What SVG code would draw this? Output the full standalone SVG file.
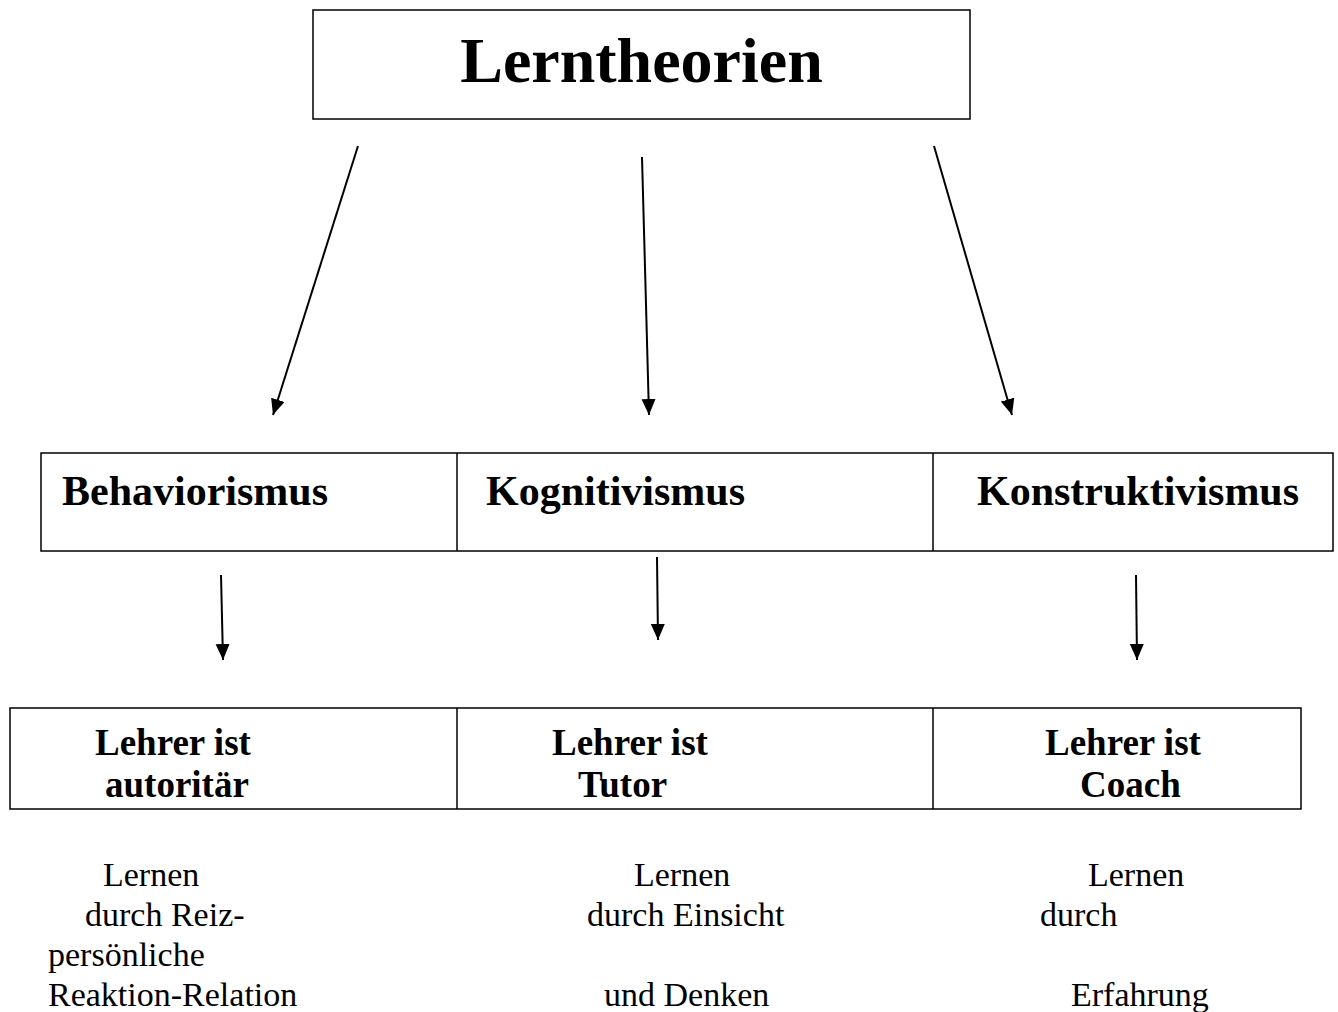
<svg xmlns="http://www.w3.org/2000/svg" width="1338" height="1012" viewBox="0 0 1338 1012">
<style>
.box{fill:#fff;stroke:#000;stroke-width:1.5}
.div{stroke:#000;stroke-width:1.5}
.conn{stroke:#000;stroke-width:2;fill:none;marker-end:url(#ah)}
.t{font-family:"Liberation Serif","Times New Roman",serif;fill:#000}
.b{font-weight:bold}
</style>
<defs>
<marker id="ah" markerUnits="userSpaceOnUse" markerWidth="18" markerHeight="16" refX="16" refY="7" orient="auto">
<path d="M0,0 L16,7 L0,14 Z" fill="#000"/>
</marker>
</defs>
<g id="title">
<rect class="box" x="313" y="10" width="657" height="109"/>
<text class="t b" x="641.5" y="82" font-size="64" text-anchor="middle">Lerntheorien</text>
</g>
<g id="theories">
<rect class="box" x="41" y="453" width="1292" height="98" stroke-width="2"/>
<line class="div" x1="457" y1="453" x2="457" y2="551"/>
<line class="div" x1="933" y1="453" x2="933" y2="551"/>
<text class="t b" x="62" y="505" font-size="42">Behaviorismus</text>
<text class="t b" x="486" y="505" font-size="42">Kognitivismus</text>
<text class="t b" x="977" y="505" font-size="42">Konstruktivismus</text>
</g>
<g id="roles">
<rect class="box" x="10" y="708" width="1291" height="101" stroke-width="2"/>
<line class="div" x1="457" y1="708" x2="457" y2="809"/>
<line class="div" x1="933" y1="708" x2="933" y2="809"/>
<text class="t b" x="95" y="755" font-size="37">Lehrer ist</text>
<text class="t b" x="105" y="797" font-size="37">autoritär</text>
<text class="t b" x="552" y="755" font-size="37">Lehrer ist</text>
<text class="t b" x="578" y="797" font-size="37">Tutor</text>
<text class="t b" x="1045" y="755" font-size="37">Lehrer ist</text>
<text class="t b" x="1080" y="797" font-size="37">Coach</text>
</g>
<g id="learning">
<text class="t" x="103" y="886" font-size="34">Lernen</text>
<text class="t" x="85" y="926" font-size="34">durch Reiz-</text>
<text class="t" x="48" y="966" font-size="34">persönliche</text>
<text class="t" x="48" y="1006" font-size="34">Reaktion-Relation</text>
<text class="t" x="634" y="886" font-size="34">Lernen</text>
<text class="t" x="587" y="926" font-size="34">durch Einsicht</text>
<text class="t" x="604" y="1006" font-size="34">und Denken</text>
<text class="t" x="1088" y="886" font-size="34">Lernen</text>
<text class="t" x="1040" y="926" font-size="34">durch</text>
<text class="t" x="1071" y="1006" font-size="34">Erfahrung</text>
</g>
<g id="connectors">
<line class="conn" x1="358" y1="146" x2="273" y2="415"/>
<line class="conn" x1="642" y1="157" x2="649" y2="415"/>
<line class="conn" x1="934" y1="146" x2="1012" y2="415"/>
<line class="conn" x1="221" y1="575" x2="223" y2="660"/>
<line class="conn" x1="657" y1="557" x2="658" y2="640"/>
<line class="conn" x1="1136" y1="575" x2="1137" y2="660"/>
</g>
</svg>
